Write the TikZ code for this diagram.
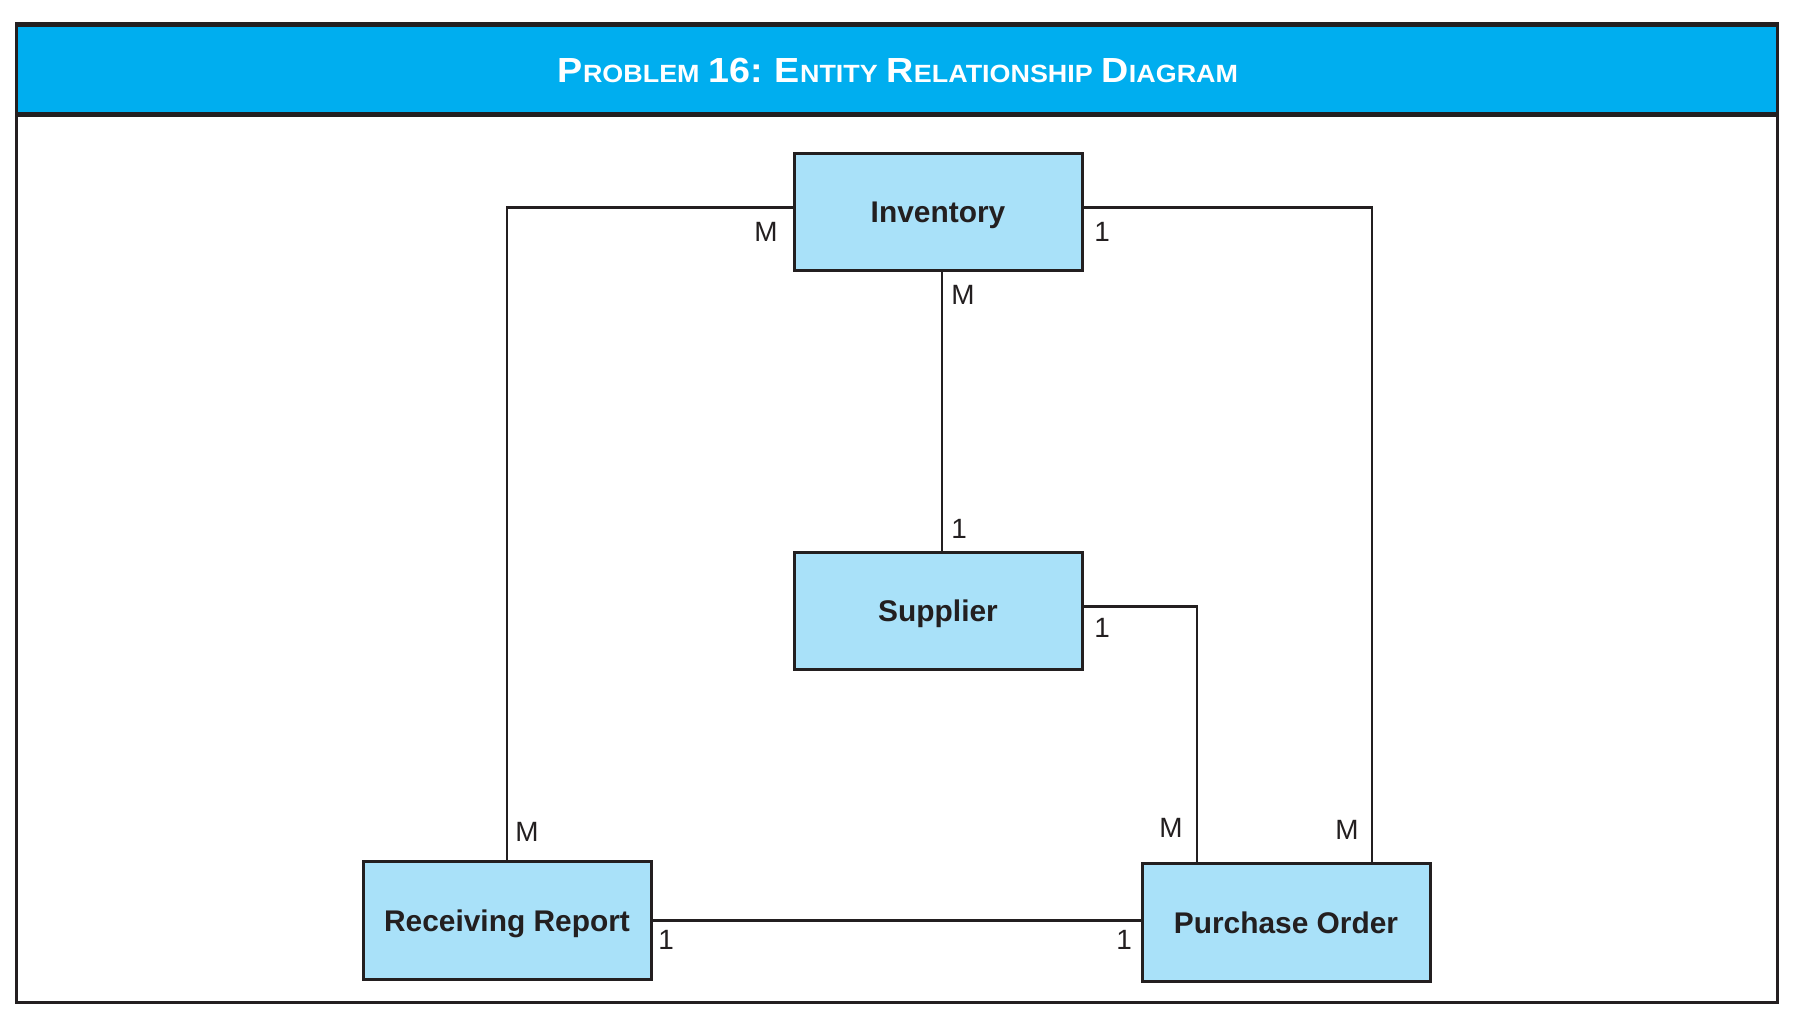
\documentclass[tikz,border=0pt]{standalone}
\usepackage{fontspec}
\setmainfont{Liberation Sans}
\usetikzlibrary{calc}

\definecolor{bandblue}{HTML}{00AEEF}
\definecolor{boxblue}{HTML}{A9E1F9}
\definecolor{inkdark}{HTML}{231F20}

\tikzset{
	entity/.style={draw=inkdark, line width=3bp, fill=boxblue, minimum width=288bp, minimum height=117bp, inner sep=0pt, text height=21.5bp, text depth=0pt, font=\fontsize{30}{32}\selectfont\bfseries, text=inkdark},
	card/.style={font=\fontsize{28}{30}\selectfont, text=inkdark, inner sep=0pt, text height=20bp, text depth=0pt},
	link/.style={draw=inkdark, line width=2.2bp}
}

\newcommand{\bigsc}[1]{{\fontsize{35}{36}\selectfont #1}}
\newcommand{\smallsc}[1]{{\fontsize{25}{26}\selectfont #1}}

\begin{document}
\begin{tikzpicture}[x=1bp, y=-1bp]
		
		\useasboundingbox (0,0) rectangle (1800,1015);
		
		\fill[bandblue] (16,25) rectangle (1777,114);
		\draw[inkdark, line width=3bp] (16,23) rectangle (1777,1002);
		\draw[inkdark, line width=5bp] (16,24.5) -- (1777,24.5);
		\draw[inkdark, line width=5bp] (16,114.5) -- (1777,114.5);
		\node[text=white, font=\fontsize{30}{32}\selectfont\bfseries, inner sep=0pt] (title) at (898,70)
			{\scalebox{1.08}[1]{\bigsc{P}\smallsc{ROBLEM} \bigsc{16:} \bigsc{E}\smallsc{NTITY} \bigsc{R}\smallsc{ELATIONSHIP} \bigsc{D}\smallsc{IAGRAM}}};
		
		\node[entity] (inv) at (938,211.5) {Inventory};
		\node[entity] (sup) at (938,610.5) {Supplier};
		\node[entity, minimum height=118bp] (rr) at (507,920.5) {Receiving Report};
		\node[entity, minimum height=118bp] (po) at (1286,922.5) {Purchase Order};
		
		\coordinate (poA) at ([xshift=-89bp]po.north);
		\coordinate (poB) at ([xshift=86bp]po.north);
		
		\draw[link] ([yshift=4bp]inv.west) -| (rr.north);
		\draw[link] ([yshift=4bp]inv.east) -| (poB);
		\draw[link] ([xshift=4bp]inv.south) -- ([xshift=4bp]sup.north);
		\draw[link] ([yshift=4bp]sup.east) -| (poA);
		\draw[link] (rr.east) -- (rr.east -| po.west);
		
		\node[card] (c1) at (766,231) {M};
		\node[card] (c2) at (1102,231) {1};
		\node[card] (c3) at (963,294) {M};
		\node[card] (c4) at (959,528) {1};
		\node[card] (c5) at (1102,627) {1};
		\node[card] (c6) at (1171,827) {M};
		\node[card] (c7) at (1347,829) {M};
		\node[card] (c8) at (527,831) {M};
		\node[card] (c9) at (666,939) {1};
		\node[card] (c10) at (1124,939) {1};
		
	\end{tikzpicture}
\end{document}
